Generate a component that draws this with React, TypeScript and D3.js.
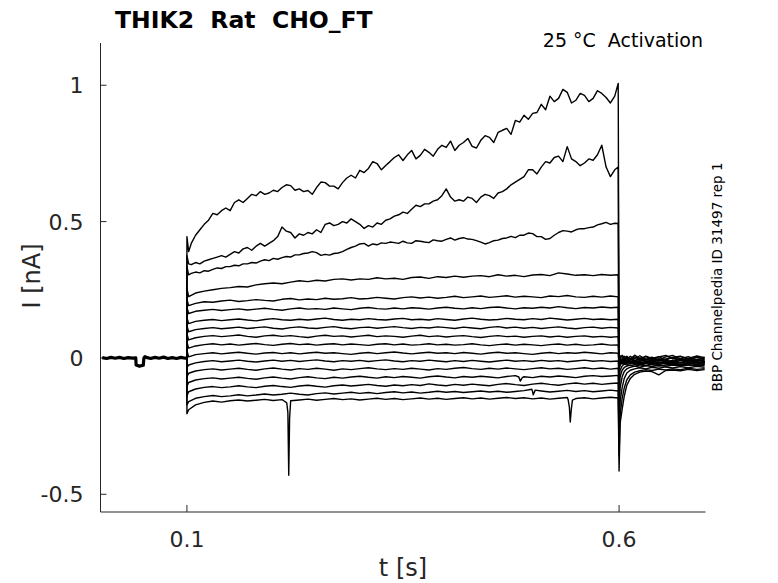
import * as d3 from 'd3';

const W = 778;
const H = 583;

// sample times (s) during the voltage step
const tFine = [
  0.102, 0.105,
  0.11, 0.115, 0.12, 0.125, 0.13, 0.135, 0.14, 0.145, 0.15, 0.155,
  0.16, 0.165, 0.17, 0.175, 0.18, 0.185, 0.19, 0.195, 0.2, 0.205,
  0.21, 0.215, 0.22, 0.225, 0.23, 0.235, 0.24, 0.245, 0.25, 0.255,
  0.26, 0.265, 0.27, 0.275, 0.28, 0.285, 0.29, 0.295, 0.3, 0.305,
  0.31, 0.315, 0.32, 0.325, 0.33, 0.335, 0.34, 0.345, 0.35, 0.355,
  0.36, 0.365, 0.37, 0.375, 0.38, 0.385, 0.39, 0.395, 0.4, 0.405,
  0.41, 0.415, 0.42, 0.425, 0.43, 0.435, 0.44, 0.445, 0.45, 0.455,
  0.46, 0.465, 0.47, 0.475, 0.48, 0.485, 0.49, 0.495, 0.5, 0.505,
  0.51, 0.515, 0.52, 0.525, 0.53, 0.535, 0.54, 0.545, 0.55, 0.555,
  0.56, 0.565, 0.57, 0.575, 0.58, 0.585, 0.59, 0.595,
  0.599,
];
const tCoarse = [
  0.102,
  0.11, 0.12, 0.13, 0.14, 0.15, 0.16, 0.17, 0.18, 0.19, 0.2,
  0.21, 0.22, 0.23, 0.24, 0.25, 0.26, 0.27, 0.28, 0.29, 0.3,
  0.31, 0.32, 0.33, 0.34, 0.35, 0.36, 0.37, 0.38, 0.39, 0.4,
  0.41, 0.42, 0.43, 0.44, 0.45, 0.46, 0.47, 0.48, 0.49, 0.5,
  0.51, 0.52, 0.53, 0.54, 0.55, 0.56, 0.57, 0.58, 0.59,
  0.599,
];
// after the step
const tTail = [0.6012, 0.6035, 0.606, 0.609, 0.613, 0.618, 0.624, 0.631, 0.638, 0.646, 0.654, 0.662, 0.671, 0.68, 0.69, 0.699];

// holding baseline before the step
const preT = [0.002, 0.007, 0.012, 0.017, 0.022, 0.027, 0.032, 0.037, 0.0408, 0.0412, 0.045, 0.0495, 0.0502, 0.0515, 0.053, 0.058, 0.063, 0.068, 0.073, 0.078, 0.083, 0.088, 0.093, 0.098, 0.1];
const preI = [0.001, -0.002, 0.002, -0.001, 0.002, -0.002, 0.001, -0.001, 0.0, -0.026, -0.03, -0.027, 0.0, 0.005, 0.002, -0.002, 0.002, -0.001, 0.003, -0.002, 0.001, -0.002, 0.002, -0.001, 0.0];

// current (nA), largest sweep first
const sweep1 = [
  0.39, 0.42,
  0.45, 0.47, 0.49, 0.505, 0.53, 0.525, 0.54, 0.55, 0.54, 0.57,
  0.58, 0.57, 0.585, 0.6, 0.595, 0.61, 0.6, 0.605, 0.615, 0.61,
  0.625, 0.635, 0.632, 0.615, 0.62, 0.61, 0.614, 0.6, 0.625, 0.645,
  0.643, 0.63, 0.63, 0.62, 0.643, 0.66, 0.67, 0.66, 0.688, 0.68,
  0.695, 0.72, 0.713, 0.69, 0.706, 0.72, 0.735, 0.745, 0.724, 0.745,
  0.761, 0.73, 0.743, 0.765, 0.754, 0.74, 0.765, 0.78, 0.772, 0.795,
  0.761, 0.78, 0.79, 0.805, 0.776, 0.77, 0.798, 0.815, 0.809, 0.79,
  0.827, 0.835, 0.842, 0.82, 0.871, 0.865, 0.89, 0.875, 0.897, 0.9,
  0.93, 0.91, 0.96, 0.94, 0.952, 0.985, 0.974, 0.935, 0.945, 0.97,
  0.963, 0.94, 0.952, 0.98, 0.97, 0.955, 0.935, 0.96,
  1.007,
];
const sweep2 = [
  0.345, 0.342,
  0.35, 0.345, 0.355, 0.36, 0.365, 0.37, 0.375, 0.37, 0.38, 0.39,
  0.385, 0.4, 0.405, 0.395, 0.41, 0.42, 0.41, 0.42, 0.43, 0.445,
  0.48, 0.465, 0.46, 0.44, 0.455, 0.45, 0.46, 0.455, 0.47, 0.46,
  0.49, 0.495, 0.485, 0.49, 0.5, 0.495, 0.51, 0.5, 0.49, 0.475,
  0.485, 0.48, 0.495, 0.49, 0.505, 0.51, 0.52, 0.525, 0.535, 0.53,
  0.545, 0.56, 0.555, 0.565, 0.565, 0.575, 0.58, 0.595, 0.62, 0.59,
  0.575, 0.58, 0.575, 0.59, 0.585, 0.57, 0.59, 0.6, 0.595, 0.585,
  0.605, 0.61, 0.62, 0.635, 0.645, 0.655, 0.665, 0.69, 0.69, 0.675,
  0.7, 0.72, 0.715, 0.735, 0.74, 0.72, 0.775, 0.73, 0.72, 0.705,
  0.715, 0.73, 0.725, 0.745, 0.78, 0.7, 0.665, 0.69,
  0.7,
];
const sweep3 = [
  0.305, 0.31,
  0.315, 0.312, 0.32, 0.318, 0.325, 0.33, 0.328, 0.335, 0.335, 0.34,
  0.338, 0.345, 0.345, 0.35, 0.348, 0.355, 0.36, 0.357, 0.365, 0.362,
  0.368, 0.372, 0.37, 0.378, 0.378, 0.383, 0.385, 0.39, 0.386, 0.376,
  0.38, 0.377, 0.383, 0.385, 0.39, 0.398, 0.405, 0.41, 0.418, 0.42,
  0.41, 0.418, 0.415, 0.422, 0.42, 0.425, 0.423, 0.42, 0.428, 0.422,
  0.42, 0.43, 0.428, 0.425, 0.423, 0.433, 0.43, 0.428, 0.435, 0.44,
  0.432, 0.438, 0.441, 0.436, 0.435, 0.43, 0.425, 0.418, 0.423, 0.43,
  0.432, 0.438, 0.44, 0.446, 0.441, 0.45, 0.45, 0.458, 0.456, 0.445,
  0.445, 0.435, 0.438, 0.45, 0.46, 0.467, 0.465, 0.462, 0.47, 0.474,
  0.474, 0.478, 0.48, 0.488, 0.492, 0.497, 0.49, 0.494,
  0.493,
];
const sweep4 = [0.225, 0.238, 0.245, 0.25, 0.255, 0.258, 0.262, 0.26, 0.268, 0.272, 0.275, 0.272, 0.278, 0.283, 0.28, 0.285, 0.282, 0.288, 0.29, 0.286, 0.29, 0.288, 0.294, 0.29, 0.292, 0.288, 0.295, 0.297, 0.292, 0.298, 0.295, 0.3, 0.296, 0.3, 0.302, 0.298, 0.305, 0.3, 0.303, 0.298, 0.304, 0.306, 0.302, 0.312, 0.308, 0.303, 0.305, 0.302, 0.306, 0.303, 0.305];
const sweep5 = [0.192, 0.2, 0.206, 0.204, 0.209, 0.212, 0.207, 0.21, 0.214, 0.211, 0.209, 0.215, 0.218, 0.213, 0.216, 0.214, 0.219, 0.215, 0.217, 0.221, 0.216, 0.218, 0.222, 0.219, 0.216, 0.221, 0.224, 0.22, 0.223, 0.219, 0.222, 0.226, 0.221, 0.224, 0.227, 0.222, 0.225, 0.228, 0.223, 0.226, 0.224, 0.221, 0.227, 0.225, 0.229, 0.224, 0.222, 0.226, 0.223, 0.227, 0.224];
const sweep6 = [0.163, 0.171, 0.175, 0.178, 0.174, 0.177, 0.18, 0.176, 0.179, 0.182, 0.178, 0.175, 0.18, 0.183, 0.179, 0.181, 0.178, 0.183, 0.18, 0.177, 0.182, 0.185, 0.181, 0.179, 0.183, 0.18, 0.184, 0.182, 0.179, 0.183, 0.186, 0.182, 0.18, 0.184, 0.181, 0.185, 0.187, 0.183, 0.18, 0.184, 0.182, 0.186, 0.183, 0.188, 0.184, 0.181, 0.185, 0.183, 0.187, 0.184, 0.186];
const sweep7 = [0.126, 0.134, 0.138, 0.141, 0.137, 0.14, 0.143, 0.139, 0.136, 0.141, 0.144, 0.14, 0.138, 0.142, 0.139, 0.143, 0.146, 0.141, 0.138, 0.142, 0.14, 0.144, 0.141, 0.139, 0.143, 0.145, 0.14, 0.142, 0.139, 0.144, 0.141, 0.138, 0.143, 0.146, 0.142, 0.139, 0.141, 0.145, 0.142, 0.14, 0.144, 0.141, 0.146, 0.143, 0.139, 0.142, 0.145, 0.141, 0.143, 0.14, 0.142];
const sweep8 = [0.096, 0.104, 0.108, 0.111, 0.107, 0.11, 0.113, 0.108, 0.111, 0.114, 0.109, 0.106, 0.111, 0.114, 0.11, 0.108, 0.112, 0.115, 0.11, 0.107, 0.111, 0.113, 0.109, 0.112, 0.115, 0.111, 0.108, 0.112, 0.11, 0.114, 0.111, 0.108, 0.113, 0.11, 0.107, 0.112, 0.115, 0.11, 0.113, 0.109, 0.112, 0.108, 0.111, 0.114, 0.11, 0.107, 0.111, 0.113, 0.109, 0.112, 0.11];
const sweep9 = [0.066, 0.074, 0.079, 0.082, 0.078, 0.081, 0.084, 0.079, 0.076, 0.081, 0.083, 0.079, 0.082, 0.078, 0.075, 0.08, 0.083, 0.079, 0.081, 0.077, 0.08, 0.083, 0.078, 0.081, 0.079, 0.076, 0.08, 0.083, 0.078, 0.081, 0.077, 0.08, 0.082, 0.078, 0.075, 0.079, 0.082, 0.078, 0.08, 0.076, 0.079, 0.081, 0.077, 0.08, 0.076, 0.079, 0.081, 0.077, 0.079, 0.076, 0.078];
const sweep10 = [0.036, 0.044, 0.049, 0.052, 0.048, 0.051, 0.047, 0.05, 0.053, 0.049, 0.046, 0.05, 0.053, 0.049, 0.051, 0.047, 0.05, 0.052, 0.048, 0.051, 0.049, 0.046, 0.05, 0.052, 0.048, 0.051, 0.047, 0.049, 0.052, 0.048, 0.05, 0.047, 0.049, 0.052, 0.048, 0.045, 0.049, 0.051, 0.047, 0.05, 0.048, 0.045, 0.049, 0.051, 0.047, 0.05, 0.046, 0.048, 0.051, 0.047, 0.048];
const sweep11 = [0.004, 0.012, 0.016, 0.019, 0.015, 0.018, 0.021, 0.017, 0.014, 0.018, 0.02, 0.016, 0.019, 0.015, 0.018, 0.021, 0.017, 0.019, 0.016, 0.013, 0.017, 0.02, 0.016, 0.019, 0.022, 0.018, 0.015, 0.018, 0.021, 0.017, 0.019, 0.016, 0.02, 0.017, 0.014, 0.018, 0.021, 0.017, 0.019, 0.016, 0.013, 0.017, 0.02, 0.016, 0.019, 0.017, 0.021, 0.018, 0.015, 0.019, 0.017];
const sweep12 = [-0.026, -0.018, -0.013, -0.01, -0.014, -0.011, -0.008, -0.012, -0.015, -0.011, -0.008, -0.012, -0.009, -0.013, -0.01, -0.007, -0.011, -0.014, -0.01, -0.012, -0.009, -0.013, -0.01, -0.007, -0.011, -0.014, -0.01, -0.012, -0.008, -0.011, -0.014, -0.01, -0.013, -0.009, -0.012, -0.015, -0.011, -0.008, -0.012, -0.01, -0.013, -0.009, -0.012, -0.01, -0.014, -0.011, -0.008, -0.012, -0.01, -0.013, -0.011];
const sweep13 = [-0.056, -0.048, -0.043, -0.04, -0.044, -0.041, -0.038, -0.042, -0.045, -0.04, -0.037, -0.041, -0.044, -0.039, -0.042, -0.038, -0.041, -0.045, -0.04, -0.043, -0.039, -0.036, -0.04, -0.043, -0.039, -0.042, -0.038, -0.041, -0.044, -0.039, -0.042, -0.038, -0.035, -0.039, -0.042, -0.038, -0.041, -0.037, -0.04, -0.043, -0.039, -0.036, -0.04, -0.038, -0.042, -0.039, -0.036, -0.04, -0.037, -0.041, -0.038];
const sweep14 = [-0.09, -0.081, -0.076, -0.073, -0.077, -0.074, -0.071, -0.075, -0.078, -0.073, -0.07, -0.074, -0.077, -0.072, -0.069, -0.073, -0.076, -0.071, -0.074, -0.07, -0.067, -0.071, -0.074, -0.069, -0.072, -0.068, -0.071, -0.074, -0.069, -0.066, -0.07, -0.073, -0.068, -0.071, -0.067, -0.07, -0.073, -0.068, -0.065, -0.069, -0.072, -0.067, -0.07, -0.066, -0.069, -0.072, -0.067, -0.065, -0.068, -0.066, -0.064];
const sweep15 = [-0.124, -0.114, -0.108, -0.105, -0.109, -0.106, -0.102, -0.106, -0.109, -0.104, -0.101, -0.105, -0.108, -0.103, -0.1, -0.104, -0.107, -0.102, -0.099, -0.103, -0.1, -0.097, -0.101, -0.104, -0.099, -0.102, -0.098, -0.101, -0.095, -0.099, -0.102, -0.097, -0.1, -0.096, -0.099, -0.102, -0.097, -0.094, -0.098, -0.101, -0.096, -0.093, -0.097, -0.1, -0.095, -0.092, -0.096, -0.093, -0.097, -0.094, -0.092];
const sweep16 = [-0.16, -0.148, -0.142, -0.138, -0.142, -0.139, -0.135, -0.139, -0.136, -0.132, -0.136, -0.133, -0.129, -0.133, -0.136, -0.131, -0.128, -0.132, -0.129, -0.126, -0.13, -0.127, -0.131, -0.127, -0.124, -0.128, -0.125, -0.129, -0.126, -0.122, -0.126, -0.123, -0.127, -0.124, -0.121, -0.125, -0.122, -0.126, -0.123, -0.12, -0.124, -0.121, -0.125, -0.122, -0.119, -0.123, -0.12, -0.124, -0.121, -0.118, -0.121];
const sweep17 = [-0.19, -0.172, -0.163, -0.158, -0.162, -0.157, -0.154, -0.158, -0.155, -0.152, -0.156, -0.153, -0.157, -0.154, -0.151, -0.155, -0.152, -0.149, -0.153, -0.15, -0.154, -0.151, -0.148, -0.152, -0.149, -0.153, -0.15, -0.147, -0.151, -0.148, -0.152, -0.149, -0.146, -0.15, -0.147, -0.151, -0.148, -0.145, -0.149, -0.146, -0.15, -0.147, -0.151, -0.148, -0.145, -0.149, -0.146, -0.15, -0.147, -0.144, -0.147];

// capacitive peak at step onset and at step end
const onsetPeak = [0.445, 0.375, 0.335, 0.255, 0.215, 0.185, 0.148, 0.118, 0.088, 0.058, 0.028, -0.035, -0.07, -0.105, -0.14, -0.172, -0.205];
const offPeak = [-0.06, -0.05, -0.05, -0.04, -0.04, -0.035, -0.035, -0.03, -0.03, -0.03, -0.04, -0.08, -0.14, -0.22, -0.29, -0.36, -0.415];

// tail currents after the step
const tail1 = [0.008, 0.004, -0.006, 0.006, -0.004, 0.01, -0.002, 0.005, -0.006, 0.004, 0.009, -0.003, 0.006, -0.002, 0.007, 0.001];
const tail2 = [-0.004, 0.01, 0.002, -0.008, 0.006, -0.003, 0.008, -0.005, 0.003, -0.007, 0.004, 0.009, -0.004, 0.005, -0.006, 0.003];
const tail3 = [0.002, -0.01, 0.006, 0.0, -0.008, 0.004, -0.006, 0.007, -0.002, 0.005, -0.008, 0.002, 0.006, -0.005, 0.003, -0.004];
const tail4 = [-0.012, -0.004, -0.01, 0.002, -0.006, -0.012, 0.0, -0.008, -0.002, -0.01, -0.004, 0.002, -0.009, -0.003, -0.011, -0.005];
const tail5 = [-0.008, -0.014, -0.004, -0.012, -0.002, -0.008, -0.014, -0.005, -0.011, -0.003, -0.009, -0.013, -0.004, -0.01, -0.006, -0.012];
const tail6 = [-0.016, -0.008, -0.014, -0.006, -0.012, -0.018, -0.009, -0.004, -0.013, -0.007, -0.015, -0.009, -0.003, -0.012, -0.008, -0.014];
const tail7 = [-0.01, -0.018, -0.012, -0.006, -0.015, -0.01, -0.004, -0.013, -0.017, -0.008, -0.012, -0.016, -0.009, -0.014, -0.005, -0.011];
const tail8 = [-0.02, -0.012, -0.016, -0.01, -0.018, -0.013, -0.02, -0.011, -0.015, -0.019, -0.012, -0.017, -0.01, -0.016, -0.013, -0.018];
const tail9 = [-0.014, -0.022, -0.016, -0.02, -0.012, -0.018, -0.015, -0.021, -0.013, -0.017, -0.022, -0.014, -0.019, -0.012, -0.018, -0.015];
const tail10 = [-0.024, -0.018, -0.022, -0.015, -0.021, -0.017, -0.023, -0.016, -0.02, -0.014, -0.019, -0.023, -0.017, -0.021, -0.015, -0.019];
const tail11 = [-0.022, -0.016, -0.024, -0.018, -0.014, -0.021, -0.025, -0.017, -0.022, -0.019, -0.015, -0.02, -0.024, -0.018, -0.022, -0.016];
const tail12 = [-0.045, -0.03, -0.022, -0.026, -0.019, -0.024, -0.02, -0.027, -0.021, -0.025, -0.018, -0.023, -0.027, -0.02, -0.024, -0.021];
const tail13 = [-0.07, -0.045, -0.035, -0.03, -0.026, -0.031, -0.025, -0.029, -0.024, -0.03, -0.026, -0.022, -0.028, -0.025, -0.029, -0.023];
const tail14 = [-0.11, -0.07, -0.05, -0.04, -0.034, -0.03, -0.034, -0.028, -0.032, -0.027, -0.031, -0.026, -0.03, -0.025, -0.029, -0.027];
const tail15 = [-0.16, -0.11, -0.075, -0.055, -0.045, -0.04, -0.036, -0.04, -0.034, -0.038, -0.033, -0.037, -0.032, -0.036, -0.031, -0.034];
const tail16 = [-0.21, -0.15, -0.11, -0.08, -0.062, -0.052, -0.047, -0.043, -0.046, -0.041, -0.044, -0.04, -0.043, -0.038, -0.042, -0.039];
const tail17 = [-0.24, -0.19, -0.14, -0.1, -0.075, -0.06, -0.052, -0.048, -0.05, -0.062, -0.046, -0.044, -0.047, -0.042, -0.046, -0.043];

// short glitches (sweep index, time, current)
const glitchSweep = [16, 16, 16, 16, 16, 16, 16, 16, 16, 16, 16, 13, 13, 13, 15, 15, 15];
const glitchT = [0.2125, 0.2155, 0.2168, 0.2178, 0.2188, 0.2198, 0.541, 0.5425, 0.5435, 0.5447, 0.546, 0.484, 0.4857, 0.488, 0.499, 0.5007, 0.503];
const glitchI = [-0.158, -0.165, -0.2, -0.43, -0.22, -0.17, -0.152, -0.18, -0.235, -0.19, -0.155, -0.07, -0.085, -0.072, -0.115, -0.135, -0.118];

const sweeps = [sweep1, sweep2, sweep3, sweep4, sweep5, sweep6, sweep7, sweep8, sweep9, sweep10, sweep11, sweep12, sweep13, sweep14, sweep15, sweep16, sweep17];
const tails = [tail1, tail2, tail3, tail4, tail5, tail6, tail7, tail8, tail9, tail10, tail11, tail12, tail13, tail14, tail15, tail16, tail17];

const xTicks = [0.1, 0.6];
const yTicks = [-0.5, 0, 0.5, 1];

const FONT = 'DejaVu Sans, sans-serif';
const AXIS = '#262626';

export default function App() {
  const x = d3.scaleLinear().domain([0, 0.7]).range([100.5, 705.5]);
  const y = d3.scaleLinear().domain([-0.565, 1.155]).range([512, 43]);
  const line = d3.line<[number, number]>().x(d => x(d[0])).y(d => y(d[1]));

  const paths = sweeps.map((vals, i) => {
    const grid = vals.length === tFine.length ? tFine : tCoarse;
    const mid: [number, number][] = vals.map((v, k) => [grid[k], v]);
    glitchSweep.forEach((s, g) => {
      if (s === i) mid.push([glitchT[g], glitchI[g]]);
    });
    mid.sort((a, b) => a[0] - b[0]);
    const pts: [number, number][] = [
      [0.1, 0],
      [0.1, onsetPeak[i]],
      ...mid,
      [0.6, offPeak[i]],
      ...tails[i].map((v, k) => [tTail[k], v] as [number, number]),
    ];
    return line(pts) || '';
  });

  const basePath = line(preT.map((t, k) => [t, preI[k]] as [number, number])) || '';
  const [x0, x1] = x.range();
  const [yb, yt] = y.range();

  return (
    <svg
      width={W}
      height={H}
      style={{ position: 'absolute', left: 0, top: 0, display: 'block', background: '#fff' }}
      fontFamily={FONT}
    >
      {/* axes */}
      <line x1={x0} x2={x1} y1={yb} y2={yb} stroke={AXIS} strokeWidth={1} />
      <line x1={x0} x2={x0} y1={yb} y2={yt} stroke={AXIS} strokeWidth={1} />
      {xTicks.map(t => (
        <g key={t}>
          <line x1={x(t)} x2={x(t)} y1={yb} y2={yb - 7} stroke={AXIS} />
          <text x={x(t)} y={yb + 35} textAnchor="middle" fontSize={22} fill={AXIS}>
            {String(t)}
          </text>
        </g>
      ))}
      {yTicks.map(t => (
        <g key={t}>
          <line x1={x0} x2={x0 + 6} y1={y(t)} y2={y(t)} stroke={AXIS} />
          <text x={x0 - 17} y={y(t) + 8} textAnchor="end" fontSize={22} fill={AXIS}>
            {String(t)}
          </text>
        </g>
      ))}
      <text x={403} y={576} textAnchor="middle" fontSize={24} fill={AXIS}>t [s]</text>
      <text transform="translate(40,276) rotate(-90)" textAnchor="middle" fontSize={24} fill={AXIS}>I [nA]</text>

      {/* traces */}
      <g fill="none" stroke="#000" strokeWidth={1.4} strokeLinejoin="round">
        {paths.map((d, i) => <path key={i} d={d} />)}
        <path d={basePath} strokeWidth={3.2} />
      </g>

      {/* titles */}
      <text x={115} y={28} fontSize={23.5} fontWeight="bold" fill="#000" style={{ whiteSpace: 'pre' }}>
        {'THIK2  Rat  CHO_FT'}
      </text>
      <text x={703} y={47} textAnchor="end" fontSize={19} fill="#000" style={{ whiteSpace: 'pre' }}>
        {'25 °C  Activation'}
      </text>
      <text transform="translate(722,277) rotate(-90)" textAnchor="middle" fontSize={13.5} fill="#000">
        BBP Channelpedia ID 31497 rep 1
      </text>
    </svg>
  );
}
